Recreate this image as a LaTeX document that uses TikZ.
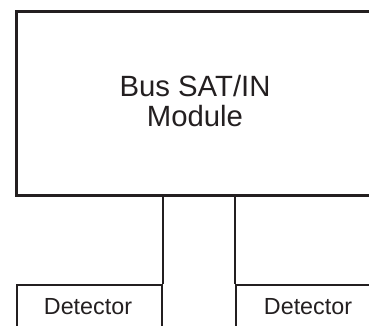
\documentclass[tikz,border=0pt]{standalone}
\usepackage{fontspec}
\setmainfont{Liberation Sans}
\definecolor{ink}{HTML}{231F20}
\begin{document}
\begin{tikzpicture}[x=1pt,y=-1pt,
  thickbox/.style={draw=ink,line width=3.3pt,rectangle,inner sep=0pt,anchor=north west},
  thinbox/.style={draw=ink,line width=2pt,rectangle,inner sep=0pt,anchor=north west},
  bigtext/.style={text=ink,font=\fontsize{29.3}{30}\selectfont,align=center,inner sep=0pt},
  smalltext/.style={text=ink,font=\fontsize{23.3}{24}\selectfont,inner sep=0pt,anchor=base},
  wire/.style={draw=ink,line width=2pt}]
\useasboundingbox (0,0) rectangle (369,326);
\clip (0,0) rectangle (369,326);
\node[thickbox,minimum width=360.6pt,minimum height=184pt] (bus) at (14.7,10) {};
\node[bigtext] (bustext) at (195,101) {Bus SAT/IN\\Module};
\node[thinbox,minimum width=145.5pt,minimum height=70pt] (det1) at (15.5,284) {};
\node[thinbox,minimum width=146pt,minimum height=70pt] (det2) at (235,284) {};
\node[smalltext] (d1text) at (88,314) {Detector};
\node[smalltext] (d2text) at (308,314) {Detector};
\draw[wire] (bus.south west -| det1.north east) -- (det1.north east);
\draw[wire] (bus.south west -| det2.north west) -- (det2.north west);
\end{tikzpicture}
\end{document}
